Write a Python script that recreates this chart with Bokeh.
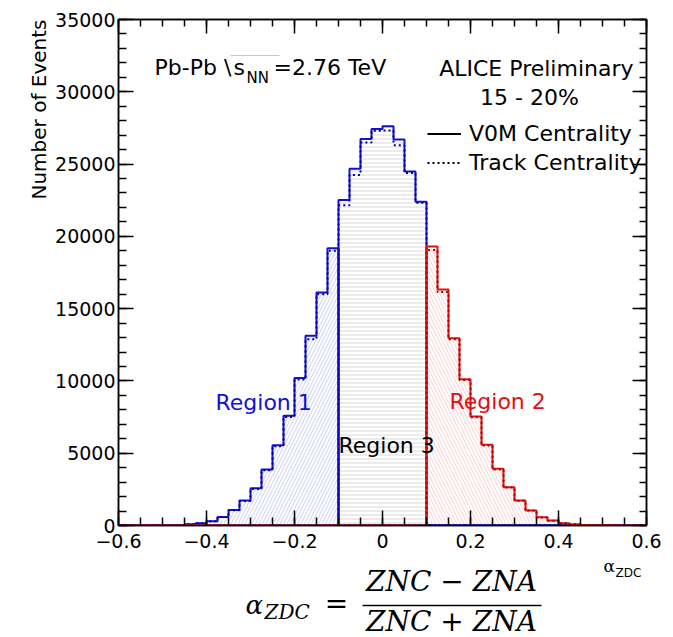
import numpy as np
from bokeh.plotting import figure
from bokeh.layouts import column
from bokeh.models import (Range1d, FixedTicker, LinearAxis, Label, CustomJSTickFormatter,
                          Legend, LegendItem, Title)
from bokeh.embed import file_html
from bokeh.resources import INLINE

# ---------------- data ----------------
bin_low = -0.6
bin_width = 0.025
# V0M centrality (solid)
v0m = [0, 2, 5, 10, 20, 40, 80, 150, 300, 590,
       1080, 1730, 2570, 3870, 5550, 7590, 10210, 13120, 16110, 19180,
       22520, 24670, 26740, 27430, 27620, 26700, 24480, 22400,
       19300, 16320, 12950, 10120, 7540, 5580, 3920, 2650, 1730, 1040,
       570, 340, 160, 80, 40, 20, 10, 5, 2, 0]
# Track centrality (dotted)
track = [0, 2, 5, 10, 20, 40, 80, 150, 290, 580,
         1060, 1700, 2530, 3820, 5490, 7500, 10100, 12880, 16000, 19000,
         22150, 24250, 26500, 27300, 27320, 26300, 24380, 22330,
         19050, 16150, 12880, 10060, 7480, 5530, 3880, 2620, 1710, 1030,
         560, 330, 160, 80, 40, 20, 10, 5, 2, 0]
region_cuts = [-0.1, 0.1]
x_ticks = [-0.6, -0.4, -0.2, 0, 0.2, 0.4, 0.6]
y_ticks = [0, 5000, 10000, 15000, 20000, 25000, 30000, 35000]

v0m = np.array(v0m, dtype=float)
track = np.array(track, dtype=float)
edges = bin_low + bin_width * np.arange(len(v0m) + 1)
centers = 0.5 * (edges[:-1] + edges[1:])

# ---------------- geometry ----------------
W = 673
H_MAIN = 555
H_FORM = 637 - H_MAIN
BL, BR, BT = 118, 27, 19
FRAME_BOTTOM = 525
BB = H_MAIN - FRAME_BOTTOM
XMIN, XMAX, YMIN, YMAX = -0.6, 0.6, 0, 35000
FW, FH = W - BL - BR, FRAME_BOTTOM - BT
BASE_SHIFT = 0.38   # correction of the text anchor, in em


def xd(px):
    return XMIN + (px - BL) / FW * (XMAX - XMIN)


def yd(py):
    return YMIN + (FRAME_BOTTOM - py) / FH * (YMAX - YMIN)


FONT = "DejaVu Sans"
BLUE = "#1010d8"
BLUE_DOT = "#00009a"
RED = "#e01010"
RED_DOT = "#b00000"

p = figure(width=W, height=H_MAIN, output_backend="svg", toolbar_location=None,
           x_range=Range1d(XMIN, XMAX), y_range=Range1d(YMIN, YMAX),
           min_border_left=BL, min_border_right=BR, min_border_top=BT,
           min_border_bottom=BB)
p.xgrid.visible = False
p.ygrid.visible = False
p.outline_line_color = "black"
p.outline_line_width = 1.5
p.background_fill_color = "white"
p.border_fill_color = "white"

# ---------------- regions ----------------
r1 = centers < region_cuts[0]
r3 = (centers > region_cuts[0]) & (centers < region_cuts[1])
r2 = centers > region_cuts[1]

hatch_specs = [
    (r1, "/", "#ccccf6", 7),
    (r3, "-", "#d8d8d8", 4),
    (r2, "\\", "#f8d0d0", 7),
]
for mask, pat, col, sc in hatch_specs:
    p.quad(left=edges[:-1][mask], right=edges[1:][mask], bottom=0, top=v0m[mask],
           fill_alpha=0, line_color=None, hatch_pattern=pat, hatch_color=col,
           hatch_scale=sc, hatch_weight=1, hatch_alpha=1)


def region_vals(vals, mask):
    out = np.where(mask, vals, 0.0)
    return np.append(out, out[-1])


for mask, col, dcol in [(r1, BLUE, BLUE_DOT), (r3, BLUE, BLUE_DOT), (r2, RED, RED_DOT)]:
    p.step(x=edges, y=region_vals(v0m, mask), mode="after", line_color=col, line_width=2)
    p.step(x=edges, y=region_vals(track, mask), mode="after", line_color=dcol,
           line_width=2, line_dash="2 3")

# ---------------- axes ----------------
xa = p.xaxis[0]
ya = p.yaxis[0]
xa.ticker = FixedTicker(ticks=x_ticks, minor_ticks=list(np.round(np.arange(-0.6, 0.6001, 0.05), 3)))
ya.ticker = FixedTicker(ticks=y_ticks, minor_ticks=list(range(0, 35001, 1000)))
xa.formatter = CustomJSTickFormatter(
    code="return Math.abs(tick) < 1e-9 ? '0' : tick.toFixed(1).replace('-', '\\u2212');")
for ax in (xa, ya):
    ax.major_tick_in = 15
    ax.major_tick_out = 0
    ax.minor_tick_in = 8
    ax.minor_tick_out = 0
    ax.axis_line_width = 1.5
    ax.major_tick_line_width = 1.5
    ax.minor_tick_line_width = 1.5
    ax.major_label_text_font = FONT
    ax.major_label_text_font_size = "19px"
    ax.major_label_text_color = "black"
ya.major_label_standoff = 3
xa.major_label_standoff = 8

empty = CustomJSTickFormatter(code="return '';")
top_ax = LinearAxis(ticker=FixedTicker(ticks=x_ticks, minor_ticks=xa.ticker.minor_ticks),
                    formatter=empty)
right_ax = LinearAxis(ticker=FixedTicker(ticks=y_ticks, minor_ticks=ya.ticker.minor_ticks),
                      formatter=empty)
for ax in (top_ax, right_ax):
    ax.major_tick_in = 14
    ax.major_tick_out = 0
    ax.minor_tick_in = 7
    ax.minor_tick_out = 0
    ax.axis_line_width = 1.5
    ax.major_tick_line_width = 1.5
    ax.minor_tick_line_width = 1.5
    ax.major_label_text_font_size = "1px"
    ax.major_label_standoff = 0
p.add_layout(top_ax, "above")
p.add_layout(right_ax, "right")

# y axis title, aligned to the top like ROOT
p.add_layout(Title(text="Number of Events", align="right", text_font=FONT,
                   text_font_size="20px", text_font_style="normal", text_color="black",
                   standoff=4, offset=0), "left")


def lab(fig, text, x, y, size=22, color="black", align="left",
        font=FONT, style="normal"):
    fig.add_layout(Label(x=x, y=y, text=text, text_font=font,
                         text_font_size=f"{size}px", text_color=color, text_align=align,
                         text_baseline="alphabetic", text_font_style=style))


def plab(text, px, py, size=22, **kw):
    lab(p, text, xd(px), yd(py - BASE_SHIFT * size), size=size, **kw)


# header texts
plab("Pb-Pb \\", 154, 75)
plab("s", 233, 75)
plab("NN", 246, 83, size=15)
plab("=2.76 TeV", 273, 75)
p.segment(x0=[xd(230)], y0=[yd(55)], x1=[xd(279)], y1=[yd(55)], line_color="#c8c8c8", line_width=1)
plab("ALICE Preliminary", 633, 76, align="right")
plab("15 - 20%", 529, 105, align="center")

# region labels
plab("Region 1", 215, 410, color=BLUE)
plab("Region 2", 449, 409, color=RED)
plab("Region 3", 338, 453)

# legend
leg_solid = p.line(x=[np.nan], y=[np.nan], line_color="black", line_width=2)
leg_dot = p.line(x=[np.nan], y=[np.nan], line_color="black", line_width=2, line_dash="2 3")
legend = Legend(items=[LegendItem(label="V0M Centrality", renderers=[leg_solid]),
                       LegendItem(label="Track Centrality", renderers=[leg_dot])],
                location=(427 - BL, FRAME_BOTTOM - 175), orientation="vertical",
                label_text_font=FONT, label_text_font_size="22px", label_text_color="black",
                glyph_width=34, glyph_height=25, label_height=25, spacing=4,
                label_standoff=8, padding=0, margin=0,
                border_line_color=None, background_fill_alpha=0)
p.add_layout(legend, "center")

# ---------------- lower strip: x axis title and formula ----------------
# its frame is aligned with the main frame horizontally, so it shares the x range
q = figure(width=W, height=H_FORM, output_backend="svg", toolbar_location=None,
           title=None, x_range=p.x_range, y_range=Range1d(637, H_MAIN),
           x_axis_location=None, y_axis_location=None,
           min_border_left=BL, min_border_right=BR, min_border_top=0, min_border_bottom=0)
q.xgrid.visible = False
q.ygrid.visible = False
q.outline_line_color = None
q.background_fill_color = "white"
q.border_fill_color = "white"


def qlab(text, px, py, size=22, **kw):
    lab(q, text, xd(px), py - BASE_SHIFT * size, size=size, **kw)


SERIF = "DejaVu Serif"
qlab("α", 603, 572, size=17, font=SERIF)
qlab("ZDC", 615, 577, size=12)

qlab("α", 245, 614, size=26, font=SERIF, style="italic")
qlab("ZDC", 264, 619, size=20, font=SERIF, style="italic")
qlab("=", 336, 614, size=28, font=SERIF, align="center")
qlab("ZNC − ZNA", 451, 592, size=28, font=SERIF, style="italic", align="center")
qlab("ZNC + ZNA", 451, 632, size=28, font=SERIF, style="italic", align="center")
q.segment(x0=[xd(362)], y0=[605], x1=[xd(541)], y1=[605], line_color="black", line_width=1.5)

layout = column(p, q, spacing=0)
open("out.html", "w").write(file_html(layout, INLINE))
